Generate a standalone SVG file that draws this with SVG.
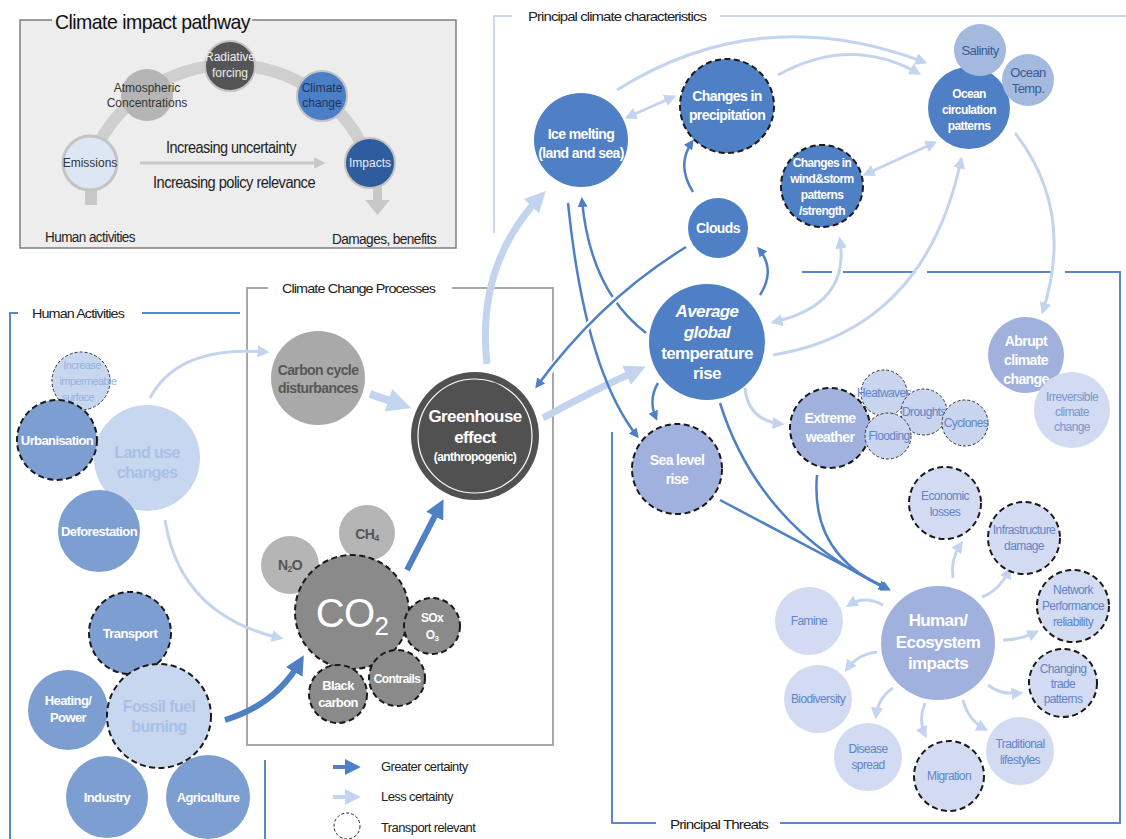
<svg xmlns="http://www.w3.org/2000/svg" width="1126" height="839" viewBox="0 0 1126 839">
<style>
text{font-family:"Liberation Sans",Arial,sans-serif;letter-spacing:-0.6px}
.c{text-anchor:middle}
.nw{fill:#fff;font-weight:bold;font-size:13px}
.nl{fill:#a9c0e5;font-weight:bold;font-size:16px}
.ng{fill:#575757;font-weight:bold;font-size:14px}
.lt{fill:#6184c8;font-size:12px}
.ft{fill:#222;font-size:13px;letter-spacing:-0.8px}
.ins{fill:#333;font-size:12px;letter-spacing:0}
.mb{fill:#4f80c5}.ha{fill:#7d9ed0}.lb{fill:#c7d7ef}.pb{fill:#a0b1de}.pl{fill:#d2dbf1}.sw{fill:#c9d5ef}.sa{fill:#a3b9de}
.g1{fill:#a9a9a9}.g2{fill:#b5b5b5}.g3{fill:#8a8a8a}
.d{stroke:#1a1a1a;stroke-width:2;stroke-dasharray:6 3.5}
.ds{stroke:#333;stroke-width:1;stroke-dasharray:3 2}
.fb{stroke:#5b87c7;stroke-width:2;fill:none}
.fg{stroke:#a8a8a8;stroke-width:2;fill:none}
.fl{stroke:#cdd7ee;stroke-width:2;fill:none}
.ld{fill:none;stroke:#4f80c5;stroke-width:2.5;marker-end:url(#ad)}
.ll{fill:none;stroke:#c3d4ee;stroke-width:3;marker-end:url(#al)}
.lt2{marker-start:url(#al)}
.halo{fill:none;stroke:#fff;stroke-width:7}
</style>
<defs>
<marker id="ad" viewBox="0 0 10 10" refX="7" refY="5" markerWidth="4" markerHeight="4" orient="auto-start-reverse"><path d="M0,0 L10,5 L0,10 z" fill="#4f80c5"/></marker>
<marker id="al" viewBox="0 0 10 10" refX="7" refY="5" markerWidth="4" markerHeight="4" orient="auto-start-reverse"><path d="M0,0 L10,5 L0,10 z" fill="#c3d4ee"/></marker>
<marker id="adb" viewBox="0 0 10 10" refX="6" refY="5" markerWidth="3.2" markerHeight="3.2" orient="auto"><path d="M0,0 L10,5 L0,10 z" fill="#4f80c5"/></marker>
<marker id="alb" viewBox="0 0 10 10" refX="6" refY="5" markerWidth="3" markerHeight="3" orient="auto"><path d="M0,0 L10,5 L0,10 z" fill="#c3d4ee"/></marker>
<marker id="ag" viewBox="0 0 10 10" refX="7" refY="5" markerWidth="4" markerHeight="4" orient="auto"><path d="M0,0 L10,5 L0,10 z" fill="#c8c8c8"/></marker>
</defs>
<rect width="1126" height="839" fill="#fff"/>

<!-- Inset: Climate impact pathway -->
<g id="inset">
<rect x="20" y="20" width="436" height="228" fill="#ededed"/>
<path d="M52,20 H20 V248 H456 V20 H252" fill="none" stroke="#7f7f7f" stroke-width="1.5"/>
<text x="55" y="29" font-size="21" fill="#111" textLength="195" lengthAdjust="spacingAndGlyphs">Climate impact pathway</text>
<path d="M90,163 A149,149 0 0 1 370,163" fill="none" stroke="#cfcfcf" stroke-width="12"/>
<rect x="85" y="185" width="12" height="20" fill="#c8c8c8"/>
<rect x="373" y="185" width="9" height="15" fill="#c8c8c8"/>
<polygon points="365,200 390,200 377.5,215" fill="#c8c8c8"/>
<line x1="140" y1="163" x2="322" y2="163" stroke="#c8c8c8" stroke-width="3" marker-end="url(#ag)"/>
<g id="n-emissions"><circle cx="90" cy="163" r="27" fill="#dde7f4" stroke="#c4c4c4" stroke-width="3"/><text class="c ins" x="90" y="167">Emissions</text></g>
<g id="n-atmos"><circle cx="147" cy="95" r="26" fill="#b5b5b5"/><text class="c ins" x="147" y="92">Atmospheric</text><text class="c ins" x="147" y="107">Concentrations</text></g>
<g id="n-radiative"><circle cx="230" cy="66" r="25" fill="#555" stroke="#c4c4c4" stroke-width="2"/><text class="c ins" x="230" y="61" fill="#eee" style="fill:#eee">Radiative</text><text class="c ins" x="230" y="77" style="fill:#eee">forcing</text></g>
<g id="n-climchange"><circle cx="322" cy="96" r="25" fill="#4a7ec6" stroke="#c4c4c4" stroke-width="2"/><text class="c ins" x="322" y="92" style="fill:#1d3558">Climate</text><text class="c ins" x="322" y="107" style="fill:#1d3558">change</text></g>
<g id="n-impacts"><circle cx="370" cy="163" r="25" fill="#2f5c9c" stroke="#c4c4c4" stroke-width="2"/><text class="c ins" x="370" y="167" style="fill:#e8eef8">Impacts</text></g>
<text class="c" x="231" y="153" font-size="16" fill="#222" textLength="130" lengthAdjust="spacingAndGlyphs">Increasing uncertainty</text>
<text class="c" x="234" y="188" font-size="16" fill="#222" textLength="162" lengthAdjust="spacingAndGlyphs">Increasing policy relevance</text>
<text x="45" y="242" font-size="14" fill="#222" textLength="90" lengthAdjust="spacingAndGlyphs">Human activities</text>
<text x="332" y="244" font-size="14" fill="#222" textLength="104" lengthAdjust="spacingAndGlyphs">Damages, benefits</text>
</g>

<!-- Frames -->
<g id="frames">
<path class="fb" d="M18,313 H10 V839"/>
<path class="fb" d="M142,313 H240"/>
<path class="fb" d="M265,760 V839"/>
<text class="ft" x="32" y="318" textLength="92" lengthAdjust="spacingAndGlyphs">Human Activities</text>
<path class="fg" d="M268,288 H247 V745 H553 V288 H452"/>
<text class="ft" x="282" y="293" textLength="153" lengthAdjust="spacingAndGlyphs">Climate Change Processes</text>
<path class="fl" d="M512,16 H494 V233"/>
<path class="fl" d="M720,16 H1126"/>
<text class="ft" x="528" y="21" textLength="178" lengthAdjust="spacingAndGlyphs">Principal climate characteristics</text>
<path class="fb" d="M656,823 H612 V432"/>
<path class="fb" d="M780,823 H1120 V272 H1065"/>
<path class="fb" d="M1053,272 H927 M916,272 H843 M832,272 H802"/>
<text class="ft" x="670" y="829" textLength="98" lengthAdjust="spacingAndGlyphs">Principal Threats</text>
</g>

<!-- Connectors -->
<g id="connectors">
<path class="ll" d="M150,398 Q178,345 266,352"/>
<path class="ll" d="M165,520 Q180,615 280,638"/>
<path d="M370,394 L402,405" fill="none" stroke="#c3d4ee" stroke-width="8" marker-end="url(#alb)"/>
<path d="M487,364 Q476,265 540,197" fill="none" stroke="#c3d4ee" stroke-width="7" marker-end="url(#alb)"/>
<path d="M543,418 Q590,392 638,370" fill="none" stroke="#c3d4ee" stroke-width="7" marker-end="url(#alb)"/>
<path d="M225,720 Q275,705 300,662" fill="none" stroke="#4f80c5" stroke-width="6" marker-end="url(#adb)"/>
<path d="M407,570 L440,506" fill="none" stroke="#4f80c5" stroke-width="6" marker-end="url(#adb)"/>
<path class="ll lt2" d="M628,117 L673,97"/>
<path class="ll" d="M617,90 Q760,0 924,62"/>
<path class="ll" d="M778,75 Q850,35 918,73"/>
<path class="ll lt2" d="M866,174 L934,143"/>
<path class="ll" d="M773,355 Q925,330 961,160"/>
<path class="ll lt2" d="M840,240 Q850,305 774,322"/>
<path class="ll" d="M1015,133 Q1075,210 1043,311"/>
<path class="ll" d="M745,388 Q748,420 781,424"/>
<path class="ld" d="M568,203 Q585,370 637,436"/>
<path class="ld" d="M646,333 Q590,290 582,200"/>
<path class="halo" d="M680,251 Q600,300 540,384"/>
<path class="ld" d="M686,247 Q600,300 537,386"/>
<path class="ld" d="M693,192 Q676,165 692,142"/>
<path class="ld" d="M760,295 Q776,270 759,249"/>
<path class="ld" d="M658,383 Q648,400 656,418"/>
<path class="ld" d="M720,403 Q760,530 888,589"/>
<path class="ld" d="M817,475 Q810,555 886,588"/>
<path class="ld" d="M720,500 L888,589"/>
<path class="ll" d="M953,578 Q950,560 961,544"/>
<path class="ll" d="M982,597 Q1000,590 1009,570"/>
<path class="ll" d="M1003,640 Q1020,640 1036,632"/>
<path class="ll" d="M988,685 Q1000,695 1020,693"/>
<path class="ll" d="M963,700 Q968,720 985,729"/>
<path class="ll" d="M925,703 Q918,720 925,735"/>
<path class="ll" d="M893,688 Q878,698 876,716"/>
<path class="ll" d="M877,652 Q858,654 847,669"/>
<path class="ll" d="M883,605 Q865,595 849,605"/>
</g>

<!-- Human activities nodes -->
<g id="n-increase"><circle class="lb ds" cx="81" cy="381" r="29"/><text class="c" x="82" y="369" font-size="11" fill="#97b2de">Increase</text><text class="c" x="88" y="385" font-size="11" fill="#97b2de">impermeable</text><text class="c" x="78" y="401" font-size="11" fill="#97b2de">surface</text></g>
<g id="n-landuse"><circle class="lb" cx="147" cy="458" r="53"/><text class="c nl" x="147" y="458">Land use</text><text class="c nl" x="147" y="478">changes</text></g>
<g id="n-urban"><circle class="ha d" cx="57" cy="440" r="40"/><text class="c nw" x="57" y="445">Urbanisation</text></g>
<g id="n-defor"><circle class="ha" cx="99" cy="531" r="41"/><text class="c nw" x="99" y="536">Deforestation</text></g>
<g id="n-heating"><circle class="ha" cx="68" cy="710" r="40"/><text class="c nw" x="68" y="705">Heating/</text><text class="c nw" x="68" y="722">Power</text></g>
<g id="n-industry"><circle class="ha" cx="107" cy="797" r="41"/><text class="c nw" x="107" y="802">Industry</text></g>
<g id="n-agri"><circle class="ha" cx="208" cy="797" r="42"/><text class="c nw" x="208" y="802">Agriculture</text></g>
<g id="n-transport"><circle class="ha d" cx="130" cy="633" r="41"/><text class="c nw" x="130" y="638">Transport</text></g>
<g id="n-fossil"><circle class="lb d" cx="159" cy="716" r="52"/><text class="c nl" x="159" y="712">Fossil fuel</text><text class="c nl" x="159" y="732">burning</text></g>

<!-- Climate change processes nodes -->
<g id="n-carbon"><circle class="g1" cx="318" cy="378" r="47"/><text class="c ng" x="318" y="375">Carbon cycle</text><text class="c ng" x="318" y="393">disturbances</text></g>
<g id="n-greenhouse"><circle cx="475" cy="436" r="64" fill="#515151"/><circle cx="475" cy="436" r="57" fill="none" stroke="#fff" stroke-width="1.2"/><text class="c" x="475" y="422" font-size="17" font-weight="bold" fill="#fff">Greenhouse</text><text class="c" x="475" y="443" font-size="17" font-weight="bold" fill="#fff">effect</text><text class="c" x="475" y="461" font-size="12" font-weight="bold" fill="#fff">(anthropogenic)</text></g>
<g id="n-ch4"><circle class="g2" cx="367" cy="533" r="28"/><text class="c" x="367" y="539" font-size="14" font-weight="bold" fill="#555">CH<tspan font-size="9" dy="2">4</tspan></text></g>
<g id="n-n2o"><circle class="g2" cx="290" cy="565" r="29"/><text class="c" x="290" y="570" font-size="14" font-weight="bold" fill="#555">N<tspan font-size="9" dy="2">2</tspan><tspan dy="-2">O</tspan></text></g>
<g id="n-co2"><circle class="g3 d" cx="352" cy="612" r="57"/><text class="c" x="352" y="627" font-size="40" fill="#fff" letter-spacing="-3">CO<tspan font-size="26" dy="8">2</tspan></text></g>
<g id="n-sox"><circle class="g3 d" cx="432" cy="626" r="28"/><text class="c nw" x="432" y="622" font-size="12" style="font-size:12px">SOx</text><text class="c nw" x="432" y="639" style="font-size:12px">O<tspan font-size="8" dy="2">3</tspan></text></g>
<g id="n-contrails"><circle class="g3 d" cx="397" cy="678" r="28"/><text class="c nw" x="397" y="683" style="font-size:12px">Contrails</text></g>
<g id="n-blackcarbon"><circle class="g3 d" cx="338" cy="694" r="29"/><text class="c nw" x="338" y="690">Black</text><text class="c nw" x="338" y="707">carbon</text></g>

<!-- Principal climate characteristics -->
<g id="n-ice"><circle class="mb" cx="581" cy="140" r="47"/><text class="c nw" x="581" y="139" style="font-size:14px">Ice melting</text><text class="c nw" x="581" y="158" style="font-size:14px">(land and sea)</text></g>
<g id="n-precip"><circle class="mb d" cx="727" cy="106" r="47"/><text class="c nw" x="727" y="101" style="font-size:14px">Changes in</text><text class="c nw" x="727" y="120" style="font-size:14px">precipitation</text></g>
<g id="n-ocean"><circle class="mb" cx="969" cy="108" r="41"/><text class="c nw" x="969" y="98" style="font-size:12px">Ocean</text><text class="c nw" x="969" y="114" style="font-size:12px">circulation</text><text class="c nw" x="969" y="130" style="font-size:12px">patterns</text></g>
<g id="n-salinity"><circle class="sa" cx="980" cy="50" r="26"/><text class="c" x="980" y="55" font-size="13" fill="#375c95">Salinity</text></g>
<g id="n-oceantemp"><circle class="sa" cx="1028" cy="80" r="26"/><text class="c" x="1028" y="77" font-size="13" fill="#375c95">Ocean</text><text class="c" x="1028" y="93" font-size="13" fill="#375c95">Temp.</text></g>
<g id="n-wind"><circle class="mb d" cx="822" cy="186" r="41"/><text class="c nw" x="822" y="167" style="font-size:12px">Changes in</text><text class="c nw" x="822" y="183" style="font-size:12px">wind&amp;storm</text><text class="c nw" x="822" y="199" style="font-size:12px">patterns</text><text class="c nw" x="822" y="215" style="font-size:12px">/strength</text></g>
<g id="n-clouds"><circle class="mb" cx="718" cy="228" r="30"/><text class="c nw" x="718" y="233" style="font-size:14px">Clouds</text></g>
<g id="n-avgtemp"><circle class="mb" cx="707" cy="342" r="58"/><text class="c nw" x="707" y="317" style="font-size:17px;font-style:italic">Average</text><text class="c nw" x="707" y="338" style="font-size:17px;font-style:italic">global</text><text class="c nw" x="707" y="359" style="font-size:17px">temperature</text><text class="c nw" x="707" y="379" style="font-size:17px">rise</text></g>
<g id="n-abrupt"><circle class="pb" cx="1026" cy="355" r="38"/><text class="c nw" x="1026" y="346" style="font-size:14px">Abrupt</text><text class="c nw" x="1026" y="365" style="font-size:14px">climate</text><text class="c nw" x="1026" y="384" style="font-size:14px">change</text></g>
<g id="n-irrev"><circle class="pl" cx="1072" cy="410" r="38"/><text class="c" x="1072" y="401" font-size="12" fill="#7b96cf">Irreversible</text><text class="c" x="1072" y="416" font-size="12" fill="#7b96cf">climate</text><text class="c" x="1072" y="431" font-size="12" fill="#7b96cf">change</text></g>
<g id="n-sealevel"><circle class="pb d" cx="677" cy="469" r="45"/><text class="c nw" x="677" y="465" style="font-size:14px">Sea level</text><text class="c nw" x="677" y="484" style="font-size:14px">rise</text></g>
<g id="n-extreme"><circle class="pb d" cx="830" cy="428" r="40"/><text class="c nw" x="830" y="423" style="font-size:14px">Extreme</text><text class="c nw" x="830" y="442" style="font-size:14px">weather</text></g>
<g id="n-heat"><circle class="sw ds" cx="884" cy="393" r="23"/><text class="c lt" x="884" y="397">Heatwaves</text></g>
<g id="n-drought"><circle class="sw ds" cx="924" cy="412" r="23"/><text class="c lt" x="924" y="416">Droughts</text></g>
<g id="n-flood"><circle class="sw ds" cx="888" cy="436" r="23"/><text class="c lt" x="889" y="440">Flooding</text></g>
<g id="n-cyclone"><circle class="sw ds" cx="965" cy="423" r="23"/><text class="c lt" x="966" y="427">Cyclones</text></g>

<!-- Principal threats -->
<g id="n-human"><circle class="pb" cx="938" cy="643" r="57"/><text class="c nw" x="938" y="626" style="font-size:17px">Human/</text><text class="c nw" x="938" y="648" style="font-size:17px">Ecosystem</text><text class="c nw" x="938" y="669" style="font-size:17px">impacts</text></g>
<g id="n-econ"><circle class="pl d" cx="945" cy="503" r="36"/><text class="c lt" x="945" y="500">Economic</text><text class="c lt" x="945" y="516">losses</text></g>
<g id="n-infra"><circle class="pl d" cx="1024" cy="538" r="36"/><text class="c lt" x="1024" y="534">Infrastructure</text><text class="c lt" x="1024" y="550">damage</text></g>
<g id="n-network"><circle class="pl d" cx="1073" cy="606" r="36"/><text class="c lt" x="1073" y="594">Network</text><text class="c lt" x="1073" y="610">Performance</text><text class="c lt" x="1073" y="626">reliability</text></g>
<g id="n-trade"><circle class="pl d" cx="1063" cy="683" r="34"/><text class="c lt" x="1063" y="673">Changing</text><text class="c lt" x="1063" y="688">trade</text><text class="c lt" x="1063" y="703">patterns</text></g>
<g id="n-trad"><circle class="pl" cx="1020" cy="751" r="34"/><text class="c lt" x="1020" y="748">Traditional</text><text class="c lt" x="1020" y="764">lifestyles</text></g>
<g id="n-migration"><circle class="pl d" cx="949" cy="776" r="35"/><text class="c lt" x="949" y="780">Migration</text></g>
<g id="n-disease"><circle class="pl" cx="868" cy="757" r="34"/><text class="c lt" x="868" y="753">Disease</text><text class="c lt" x="868" y="769">spread</text></g>
<g id="n-biodiv"><circle class="pl" cx="818" cy="699" r="34"/><text class="c lt" x="818" y="703">Biodiversity</text></g>
<g id="n-famine"><circle class="pl" cx="809" cy="621" r="34"/><text class="c lt" x="809" y="625">Famine</text></g>

<!-- Legend -->
<g id="legend">
<line x1="333" y1="767" x2="356" y2="767" stroke="#4f80c5" stroke-width="4" marker-end="url(#ad)"/>
<line x1="333" y1="797" x2="356" y2="797" stroke="#c3d4ee" stroke-width="4" marker-end="url(#al)"/>
<circle cx="347" cy="826" r="13" fill="none" stroke="#222" stroke-width="1" stroke-dasharray="3 2"/>
<text x="381" y="771" font-size="13" fill="#222" letter-spacing="0">Greater certainty</text>
<text x="381" y="801" font-size="13" fill="#222" letter-spacing="0">Less certainty</text>
<text x="381" y="832" font-size="13" fill="#222" letter-spacing="0">Transport relevant</text>
</g>
</svg>
